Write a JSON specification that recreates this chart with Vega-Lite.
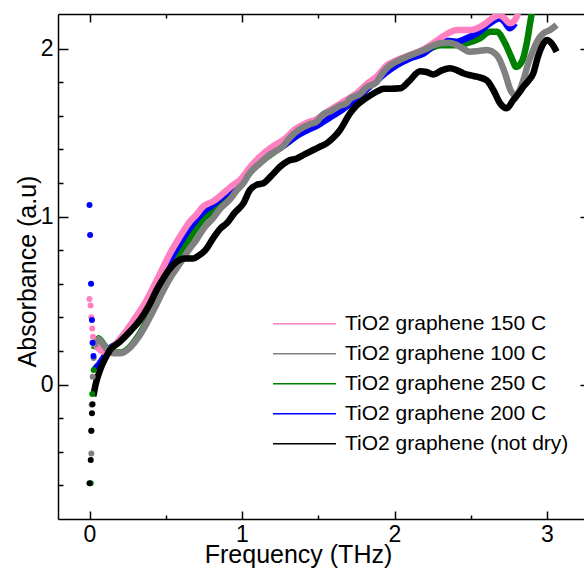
{
  "$schema": "https://vega.github.io/schema/vega-lite/v6.json",
  "width": 526,
  "height": 505,
  "autosize": {"type": "none"},
  "padding": {"left": 58, "top": 14, "right": 0, "bottom": 49},
  "config": {
    "view": {"stroke": null},
    "font": "Liberation Sans",
    "axis": {"grid": false, "domainColor": "black", "domainWidth": 1.5, "tickColor": "black", "tickWidth": 1.5, "labelColor": "black", "titleColor": "black", "titleFontWeight": "normal", "labelFont": "Liberation Sans", "titleFont": "Liberation Sans"}
  },
  "data": {
    "values": [
      {"s":"150","k":"d","f":0.0,"a":0.509},{"s":"150","k":"d","f":0.007,"a":0.47},{"s":"150","k":"d","f":0.012,"a":0.40},{"s":"150","k":"d","f":0.018,"a":0.334},{"s":"150","k":"d","f":0.023,"a":0.284},
      {"s":"100","k":"d","f":0.012,"a":-0.41},{"s":"100","k":"d","f":0.014,"a":-0.12},{"s":"100","k":"d","f":0.021,"a":0.046},{"s":"100","k":"d","f":0.027,"a":0.158},
      {"s":"250","k":"d","f":0.008,"a":-0.588},{"s":"250","k":"d","f":0.012,"a":-0.275},{"s":"250","k":"d","f":0.018,"a":-0.057},{"s":"250","k":"d","f":0.027,"a":0.086},
      {"s":"200","k":"d","f":0.0,"a":1.068},{"s":"200","k":"d","f":0.004,"a":0.89},{"s":"200","k":"d","f":0.01,"a":0.60},{"s":"200","k":"d","f":0.016,"a":0.384},{"s":"200","k":"d","f":0.02,"a":0.249},{"s":"200","k":"d","f":0.026,"a":0.17},
      {"s":"nd","k":"d","f":0.0,"a":-0.588},{"s":"nd","k":"d","f":0.008,"a":-0.449},{"s":"nd","k":"d","f":0.012,"a":-0.275},{"s":"nd","k":"d","f":0.016,"a":-0.171},{"s":"nd","k":"d","f":0.02,"a":-0.118},

      {"s":"150","k":"l","f":0.03,"a":0.247},{"s":"150","k":"l","f":0.05,"a":0.225},{"s":"150","k":"l","f":0.07,"a":0.205},{"s":"150","k":"l","f":0.1,"a":0.195},{"s":"150","k":"l","f":0.134,"a":0.21},{"s":"150","k":"l","f":0.18,"a":0.25},{"s":"150","k":"l","f":0.244,"a":0.324},{"s":"150","k":"l","f":0.31,"a":0.41},{"s":"150","k":"l","f":0.375,"a":0.503},{"s":"150","k":"l","f":0.43,"a":0.6},{"s":"150","k":"l","f":0.484,"a":0.7},{"s":"150","k":"l","f":0.528,"a":0.78},{"s":"150","k":"l","f":0.593,"a":0.88},{"s":"150","k":"l","f":0.65,"a":0.96},{"s":"150","k":"l","f":0.7,"a":1.01},{"s":"150","k":"l","f":0.746,"a":1.06},{"s":"150","k":"l","f":0.81,"a":1.09},{"s":"150","k":"l","f":0.877,"a":1.138},{"s":"150","k":"l","f":0.93,"a":1.18},{"s":"150","k":"l","f":0.987,"a":1.217},{"s":"150","k":"l","f":1.05,"a":1.29},{"s":"150","k":"l","f":1.118,"a":1.356},{"s":"150","k":"l","f":1.19,"a":1.41},{"s":"150","k":"l","f":1.27,"a":1.455},{"s":"150","k":"l","f":1.359,"a":1.525},{"s":"150","k":"l","f":1.42,"a":1.555},{"s":"150","k":"l","f":1.49,"a":1.58},{"s":"150","k":"l","f":1.577,"a":1.634},{"s":"150","k":"l","f":1.664,"a":1.683},{"s":"150","k":"l","f":1.752,"a":1.733},{"s":"150","k":"l","f":1.82,"a":1.79},{"s":"150","k":"l","f":1.883,"a":1.832},{"s":"150","k":"l","f":1.95,"a":1.9},{"s":"150","k":"l","f":2.014,"a":1.931},{"s":"150","k":"l","f":2.1,"a":1.961},{"s":"150","k":"l","f":2.189,"a":1.995},{"s":"150","k":"l","f":2.298,"a":2.06},{"s":"150","k":"l","f":2.35,"a":2.09},{"s":"150","k":"l","f":2.408,"a":2.11},{"s":"150","k":"l","f":2.495,"a":2.11},{"s":"150","k":"l","f":2.582,"a":2.14},{"s":"150","k":"l","f":2.64,"a":2.18},{"s":"150","k":"l","f":2.69,"a":2.2},{"s":"150","k":"l","f":2.72,"a":2.18},{"s":"150","k":"l","f":2.757,"a":2.15},{"s":"150","k":"l","f":2.79,"a":2.17},{"s":"150","k":"l","f":2.81,"a":2.21},

      {"s":"100","k":"l","f":0.031,"a":0.225},{"s":"100","k":"l","f":0.045,"a":0.26},{"s":"100","k":"l","f":0.058,"a":0.269},{"s":"100","k":"l","f":0.08,"a":0.25},{"s":"100","k":"l","f":0.1,"a":0.225},{"s":"100","k":"l","f":0.125,"a":0.2},{"s":"100","k":"l","f":0.156,"a":0.186},{"s":"100","k":"l","f":0.2,"a":0.186},{"s":"100","k":"l","f":0.266,"a":0.22},{"s":"100","k":"l","f":0.32,"a":0.28},{"s":"100","k":"l","f":0.375,"a":0.364},{"s":"100","k":"l","f":0.43,"a":0.46},{"s":"100","k":"l","f":0.484,"a":0.56},{"s":"100","k":"l","f":0.54,"a":0.65},{"s":"100","k":"l","f":0.593,"a":0.72},{"s":"100","k":"l","f":0.65,"a":0.8},{"s":"100","k":"l","f":0.7,"a":0.86},{"s":"100","k":"l","f":0.75,"a":0.93},{"s":"100","k":"l","f":0.81,"a":0.99},{"s":"100","k":"l","f":0.86,"a":1.05},{"s":"100","k":"l","f":0.92,"a":1.1},{"s":"100","k":"l","f":0.97,"a":1.16},{"s":"100","k":"l","f":1.009,"a":1.198},{"s":"100","k":"l","f":1.052,"a":1.26},{"s":"100","k":"l","f":1.118,"a":1.317},{"s":"100","k":"l","f":1.184,"a":1.37},{"s":"100","k":"l","f":1.27,"a":1.42},{"s":"100","k":"l","f":1.315,"a":1.47},{"s":"100","k":"l","f":1.38,"a":1.52},{"s":"100","k":"l","f":1.446,"a":1.55},{"s":"100","k":"l","f":1.49,"a":1.565},{"s":"100","k":"l","f":1.533,"a":1.61},{"s":"100","k":"l","f":1.577,"a":1.625},{"s":"100","k":"l","f":1.643,"a":1.66},{"s":"100","k":"l","f":1.686,"a":1.675},{"s":"100","k":"l","f":1.708,"a":1.7},{"s":"100","k":"l","f":1.774,"a":1.73},{"s":"100","k":"l","f":1.818,"a":1.77},{"s":"100","k":"l","f":1.883,"a":1.8},{"s":"100","k":"l","f":1.905,"a":1.832},{"s":"100","k":"l","f":1.97,"a":1.9},{"s":"100","k":"l","f":1.992,"a":1.912},{"s":"100","k":"l","f":2.08,"a":1.951},{"s":"100","k":"l","f":2.189,"a":1.99},{"s":"100","k":"l","f":2.298,"a":2.031},{"s":"100","k":"l","f":2.36,"a":2.035},{"s":"100","k":"l","f":2.408,"a":2.021},{"s":"100","k":"l","f":2.495,"a":1.981},{"s":"100","k":"l","f":2.55,"a":1.985},{"s":"100","k":"l","f":2.605,"a":1.991},{"s":"100","k":"l","f":2.67,"a":1.961},{"s":"100","k":"l","f":2.725,"a":1.852},{"s":"100","k":"l","f":2.757,"a":1.76},{"s":"100","k":"l","f":2.79,"a":1.72},{"s":"100","k":"l","f":2.82,"a":1.75},{"s":"100","k":"l","f":2.845,"a":1.812},{"s":"100","k":"l","f":2.88,"a":1.92},{"s":"100","k":"l","f":2.91,"a":1.991},{"s":"100","k":"l","f":2.94,"a":2.05},{"s":"100","k":"l","f":2.976,"a":2.09},{"s":"100","k":"l","f":3.02,"a":2.11},{"s":"100","k":"l","f":3.063,"a":2.14},

      {"s":"250","k":"l","f":0.03,"a":0.21},{"s":"250","k":"l","f":0.05,"a":0.26},{"s":"250","k":"l","f":0.06,"a":0.275},{"s":"250","k":"l","f":0.08,"a":0.255},{"s":"250","k":"l","f":0.1,"a":0.23},{"s":"250","k":"l","f":0.13,"a":0.2},{"s":"250","k":"l","f":0.16,"a":0.19},{"s":"250","k":"l","f":0.2,"a":0.19},{"s":"250","k":"l","f":0.266,"a":0.225},{"s":"250","k":"l","f":0.32,"a":0.29},{"s":"250","k":"l","f":0.375,"a":0.375},{"s":"250","k":"l","f":0.43,"a":0.47},{"s":"250","k":"l","f":0.484,"a":0.57},{"s":"250","k":"l","f":0.54,"a":0.67},{"s":"250","k":"l","f":0.593,"a":0.77},{"s":"250","k":"l","f":0.65,"a":0.86},{"s":"250","k":"l","f":0.7,"a":0.93},{"s":"250","k":"l","f":0.75,"a":0.99},{"s":"250","k":"l","f":0.81,"a":1.03},{"s":"250","k":"l","f":0.877,"a":1.09},{"s":"250","k":"l","f":0.93,"a":1.14},{"s":"250","k":"l","f":0.987,"a":1.19},{"s":"250","k":"l","f":1.05,"a":1.26},{"s":"250","k":"l","f":1.118,"a":1.32},{"s":"250","k":"l","f":1.19,"a":1.37},{"s":"250","k":"l","f":1.27,"a":1.42},{"s":"250","k":"l","f":1.359,"a":1.48},{"s":"250","k":"l","f":1.42,"a":1.52},{"s":"250","k":"l","f":1.49,"a":1.55},{"s":"250","k":"l","f":1.577,"a":1.6},{"s":"250","k":"l","f":1.664,"a":1.65},{"s":"250","k":"l","f":1.752,"a":1.71},{"s":"250","k":"l","f":1.82,"a":1.77},{"s":"250","k":"l","f":1.883,"a":1.81},{"s":"250","k":"l","f":1.95,"a":1.87},{"s":"250","k":"l","f":2.014,"a":1.91},{"s":"250","k":"l","f":2.1,"a":1.95},{"s":"250","k":"l","f":2.19,"a":1.98},{"s":"250","k":"l","f":2.3,"a":2.02},{"s":"250","k":"l","f":2.4,"a":2.02},{"s":"250","k":"l","f":2.472,"a":2.031},{"s":"250","k":"l","f":2.56,"a":2.06},{"s":"250","k":"l","f":2.626,"a":2.1},{"s":"250","k":"l","f":2.67,"a":2.1},{"s":"250","k":"l","f":2.725,"a":2.031},{"s":"250","k":"l","f":2.769,"a":1.942},{"s":"250","k":"l","f":2.797,"a":1.89},{"s":"250","k":"l","f":2.834,"a":1.92},{"s":"250","k":"l","f":2.867,"a":2.031},{"s":"250","k":"l","f":2.889,"a":2.15},{"s":"250","k":"l","f":2.9,"a":2.21},

      {"s":"200","k":"l","f":0.03,"a":0.116},{"s":"200","k":"l","f":0.05,"a":0.105},{"s":"200","k":"l","f":0.07,"a":0.13},{"s":"200","k":"l","f":0.1,"a":0.17},{"s":"200","k":"l","f":0.134,"a":0.215},{"s":"200","k":"l","f":0.18,"a":0.245},{"s":"200","k":"l","f":0.244,"a":0.31},{"s":"200","k":"l","f":0.31,"a":0.4},{"s":"200","k":"l","f":0.375,"a":0.49},{"s":"200","k":"l","f":0.43,"a":0.58},{"s":"200","k":"l","f":0.484,"a":0.67},{"s":"200","k":"l","f":0.528,"a":0.74},{"s":"200","k":"l","f":0.593,"a":0.84},{"s":"200","k":"l","f":0.65,"a":0.92},{"s":"200","k":"l","f":0.7,"a":0.98},{"s":"200","k":"l","f":0.75,"a":1.03},{"s":"200","k":"l","f":0.81,"a":1.07},{"s":"200","k":"l","f":0.877,"a":1.12},{"s":"200","k":"l","f":0.93,"a":1.16},{"s":"200","k":"l","f":0.987,"a":1.21},{"s":"200","k":"l","f":1.05,"a":1.27},{"s":"200","k":"l","f":1.118,"a":1.33},{"s":"200","k":"l","f":1.19,"a":1.38},{"s":"200","k":"l","f":1.27,"a":1.42},{"s":"200","k":"l","f":1.359,"a":1.48},{"s":"200","k":"l","f":1.42,"a":1.51},{"s":"200","k":"l","f":1.49,"a":1.54},{"s":"200","k":"l","f":1.577,"a":1.59},{"s":"200","k":"l","f":1.664,"a":1.64},{"s":"200","k":"l","f":1.752,"a":1.7},{"s":"200","k":"l","f":1.82,"a":1.76},{"s":"200","k":"l","f":1.883,"a":1.81},{"s":"200","k":"l","f":1.95,"a":1.86},{"s":"200","k":"l","f":2.014,"a":1.9},{"s":"200","k":"l","f":2.1,"a":1.94},{"s":"200","k":"l","f":2.19,"a":1.97},{"s":"200","k":"l","f":2.298,"a":2.04},{"s":"200","k":"l","f":2.36,"a":2.045},{"s":"200","k":"l","f":2.41,"a":2.04},{"s":"200","k":"l","f":2.47,"a":2.06},{"s":"200","k":"l","f":2.54,"a":2.09},{"s":"200","k":"l","f":2.626,"a":2.15},{"s":"200","k":"l","f":2.69,"a":2.18},{"s":"200","k":"l","f":2.72,"a":2.16},{"s":"200","k":"l","f":2.757,"a":2.12},{"s":"200","k":"l","f":2.79,"a":2.15},

      {"s":"nd","k":"l","f":0.025,"a":-0.07},{"s":"nd","k":"l","f":0.04,"a":0.0},{"s":"nd","k":"l","f":0.069,"a":0.086},{"s":"nd","k":"l","f":0.1,"a":0.15},{"s":"nd","k":"l","f":0.134,"a":0.205},{"s":"nd","k":"l","f":0.2,"a":0.255},{"s":"nd","k":"l","f":0.27,"a":0.32},{"s":"nd","k":"l","f":0.331,"a":0.384},{"s":"nd","k":"l","f":0.39,"a":0.47},{"s":"nd","k":"l","f":0.44,"a":0.5625},{"s":"nd","k":"l","f":0.49,"a":0.64},{"s":"nd","k":"l","f":0.528,"a":0.69},{"s":"nd","k":"l","f":0.57,"a":0.73},{"s":"nd","k":"l","f":0.62,"a":0.75},{"s":"nd","k":"l","f":0.68,"a":0.75},{"s":"nd","k":"l","f":0.72,"a":0.77},{"s":"nd","k":"l","f":0.76,"a":0.8},{"s":"nd","k":"l","f":0.81,"a":0.87},{"s":"nd","k":"l","f":0.86,"a":0.93},{"s":"nd","k":"l","f":0.9,"a":0.96},{"s":"nd","k":"l","f":0.95,"a":1.02},{"s":"nd","k":"l","f":1.01,"a":1.08},{"s":"nd","k":"l","f":1.052,"a":1.158},{"s":"nd","k":"l","f":1.1,"a":1.19},{"s":"nd","k":"l","f":1.14,"a":1.198},{"s":"nd","k":"l","f":1.19,"a":1.24},{"s":"nd","k":"l","f":1.249,"a":1.296},{"s":"nd","k":"l","f":1.3,"a":1.33},{"s":"nd","k":"l","f":1.359,"a":1.346},{"s":"nd","k":"l","f":1.41,"a":1.37},{"s":"nd","k":"l","f":1.467,"a":1.396},{"s":"nd","k":"l","f":1.51,"a":1.415},{"s":"nd","k":"l","f":1.555,"a":1.435},{"s":"nd","k":"l","f":1.6,"a":1.47},{"s":"nd","k":"l","f":1.643,"a":1.515},{"s":"nd","k":"l","f":1.708,"a":1.614},{"s":"nd","k":"l","f":1.75,"a":1.66},{"s":"nd","k":"l","f":1.795,"a":1.693},{"s":"nd","k":"l","f":1.84,"a":1.72},{"s":"nd","k":"l","f":1.883,"a":1.743},{"s":"nd","k":"l","f":1.93,"a":1.76},{"s":"nd","k":"l","f":1.97,"a":1.76},{"s":"nd","k":"l","f":2.036,"a":1.763},{"s":"nd","k":"l","f":2.1,"a":1.81},{"s":"nd","k":"l","f":2.167,"a":1.865},{"s":"nd","k":"l","f":2.21,"a":1.86},{"s":"nd","k":"l","f":2.254,"a":1.845},{"s":"nd","k":"l","f":2.31,"a":1.87},{"s":"nd","k":"l","f":2.364,"a":1.882},{"s":"nd","k":"l","f":2.41,"a":1.87},{"s":"nd","k":"l","f":2.451,"a":1.853},{"s":"nd","k":"l","f":2.5,"a":1.84},{"s":"nd","k":"l","f":2.54,"a":1.832},{"s":"nd","k":"l","f":2.605,"a":1.81},{"s":"nd","k":"l","f":2.648,"a":1.753},{"s":"nd","k":"l","f":2.692,"a":1.674},{"s":"nd","k":"l","f":2.736,"a":1.644},{"s":"nd","k":"l","f":2.779,"a":1.693},{"s":"nd","k":"l","f":2.82,"a":1.74},{"s":"nd","k":"l","f":2.845,"a":1.773},{"s":"nd","k":"l","f":2.88,"a":1.81},{"s":"nd","k":"l","f":2.91,"a":1.853},{"s":"nd","k":"l","f":2.94,"a":1.95},{"s":"nd","k":"l","f":2.965,"a":2.01},{"s":"nd","k":"l","f":2.998,"a":2.05},{"s":"nd","k":"l","f":3.03,"a":2.03},{"s":"nd","k":"l","f":3.063,"a":1.981}
    ]
  },
  "layer": [
    {
      "encoding": {
        "x": {"field": "f", "type": "quantitative", "scale": {"domain": [-0.2066, 3.2426], "nice": false, "zero": false},
          "axis": {"orient": "bottom", "values": [0, 0.5, 1, 1.5, 2, 2.5, 3], "labelExpr": "datum.value % 1 === 0 ? format(datum.value, 'd') : ''",
            "tickSize": {"condition": {"test": "datum.value % 1 === 0", "value": -8}, "value": -4},
            "labelFontSize": 23, "labelPadding": 12, "labelFlush": false,
            "title": "Frequency (THz)", "titleFontSize": 25, "titleX": 240, "titleY": 43, "titleAlign": "center", "titleBaseline": "alphabetic", "titleAnchor": null}},
        "y": {"field": "a", "type": "quantitative", "scale": {"domain": [-0.8006, 2.2054], "nice": false, "zero": false},
          "axis": {"orient": "left", "values": [-0.6, -0.4, -0.2, 0, 0.2, 0.4, 0.6, 0.8, 1, 1.2, 1.4, 1.6, 1.8, 2], "labelExpr": "datum.value % 1 === 0 ? format(datum.value, 'd') : ''",
            "tickSize": {"condition": {"test": "datum.value % 1 === 0", "value": -10}, "value": -5},
            "labelFontSize": 23, "labelPadding": 15, "labelFlush": false,
            "title": "Absorbance (a.u)", "titleFontSize": 25, "titleX": -22.5, "titleY": 257, "titleAngle": 270, "titleAlign": "center", "titleBaseline": "alphabetic", "titleAnchor": null}},
        "color": {"field": "s", "type": "nominal",
          "scale": {"domain": ["150", "100", "250", "200", "nd"], "range": ["#ff80c0", "#808080", "#008000", "#0000ff", "#000000"]},
          "legend": {"orient": "none", "legendX": 235, "legendY": 298.25, "title": null, "padding": 0, "symbolType": "M-3,0H3", "symbolSize": 441, "symbolStrokeWidth": 1.5, "symbolFillColor": "transparent", "symbolOpacity": 1, "labelFontSize": 21, "labelColor": "black", "labelFont": "Liberation Sans", "labelOffset": 29, "rowPadding": 8, "labelLimit": 400,
            "labelExpr": "{'150': 'TiO2 graphene 150 C', '100': 'TiO2 graphene 100 C', '250': 'TiO2 graphene 250 C', '200': 'TiO2 graphene 200 C', 'nd': 'TiO2 graphene (not dry)'}[datum.label]"}}
      },
      "layer": [
        {"transform": [{"filter": "datum.k === 'l' && datum.s === '250'"}], "mark": {"type": "line", "strokeWidth": 6.5, "interpolate": "monotone", "clip": true}},
        {"transform": [{"filter": "datum.k === 'l' && datum.s === '200'"}], "mark": {"type": "line", "strokeWidth": 6.5, "interpolate": "monotone", "clip": true}},
        {"transform": [{"filter": "datum.k === 'l' && datum.s === '150'"}], "mark": {"type": "line", "strokeWidth": 6.5, "interpolate": "monotone", "clip": true}},
        {"transform": [{"filter": "datum.k === 'l' && datum.s === '100'"}], "mark": {"type": "line", "strokeWidth": 6.5, "interpolate": "monotone", "clip": true}},
        {"transform": [{"filter": "datum.k === 'l' && datum.s === 'nd'"}], "mark": {"type": "line", "strokeWidth": 6.5, "interpolate": "monotone", "clip": true}},
        {"transform": [{"filter": "datum.k === 'd'"}], "mark": {"type": "circle", "size": 36, "opacity": 1, "clip": true}}
      ]
    },
    {
      "mark": {"type": "point", "opacity": 0},
      "encoding": {
        "x": {"field": "f", "type": "quantitative",
          "axis": {"orient": "top", "values": [0, 0.5, 1, 1.5, 2, 2.5, 3], "labels": false, "title": null,
            "tickSize": {"condition": {"test": "datum.value % 1 === 0", "value": -8}, "value": -4}}},
        "y": {"field": "a", "type": "quantitative",
          "axis": {"orient": "right", "values": [0, 1, 2], "labels": false, "title": null, "domain": false, "tickSize": -4}}
      }
    }
  ],
  "resolve": {"axis": {"x": "independent", "y": "independent"}}
}
